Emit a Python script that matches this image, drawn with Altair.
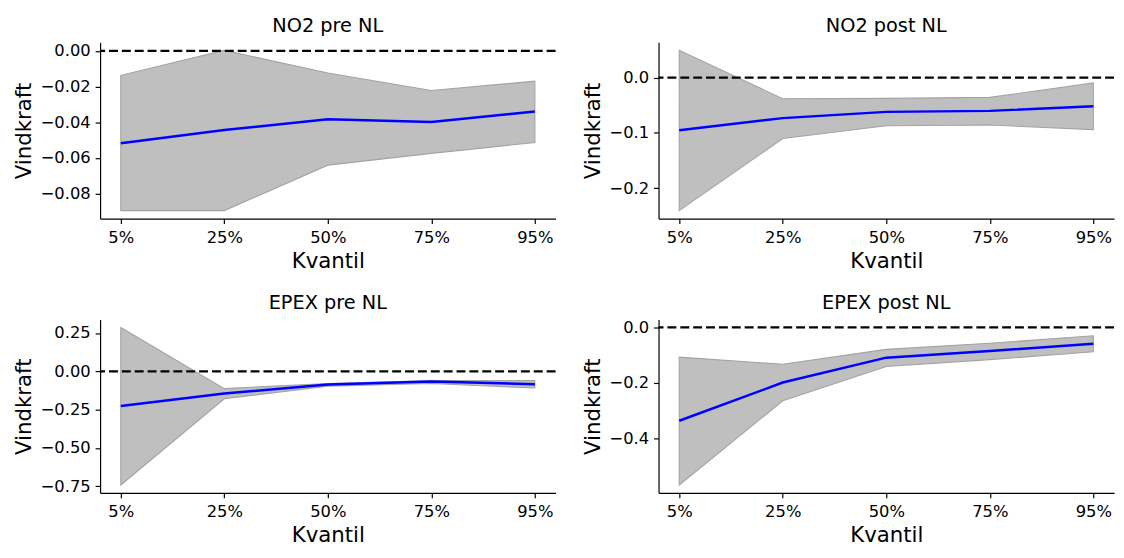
import altair as alt
import pandas as pd

quantiles = ["5%", "25%", "50%", "75%", "95%"]

no2_pre_mean = [-0.0518, -0.0444, -0.0384, -0.0399, -0.0340]
no2_pre_lo = [-0.0896, -0.0896, -0.0641, -0.0575, -0.0514]
no2_pre_hi = [-0.0137, 0.0003, -0.0124, -0.0222, -0.0170]
no2_pre_ticks = [0.0, -0.02, -0.04, -0.06, -0.08]

no2_post_mean = [-0.0952, -0.0732, -0.0619, -0.0601, -0.0518]
no2_post_lo = [-0.2405, -0.1101, -0.0869, -0.0857, -0.0940]
no2_post_hi = [0.0494, -0.0381, -0.0375, -0.0357, -0.0095]
no2_post_ticks = [0.0, -0.1, -0.2]

epex_pre_mean = [-0.227, -0.145, -0.086, -0.067, -0.084]
epex_pre_lo = [-0.742, -0.179, -0.097, -0.080, -0.109]
epex_pre_hi = [0.286, -0.113, -0.080, -0.061, -0.061]
epex_pre_ticks = [0.25, 0.0, -0.25, -0.5, -0.75]

epex_post_mean = [-0.337, -0.199, -0.109, -0.085, -0.059]
epex_post_lo = [-0.569, -0.265, -0.141, -0.116, -0.088]
epex_post_hi = [-0.107, -0.133, -0.079, -0.057, -0.030]
epex_post_ticks = [0.0, -0.2, -0.4]

titles = ["NO2 pre NL", "NO2 post NL", "EPEX pre NL", "EPEX post NL"]
zero_line = [0.0]


def panel(title, mean, lo, hi, ticks, fmt, h):
    df = pd.DataFrame({"q": quantiles, "mean": mean, "lo": lo, "hi": hi})
    dmin = min(min(lo), 0.0)
    dmax = max(max(hi), 0.0)
    m = 0.05 * (dmax - dmin)
    yscale = alt.Scale(domain=[dmin - m, dmax + m], nice=False, zero=False)
    yaxis = alt.Axis(
        title="Vindkraft",
        values=ticks,
        labelExpr="replace(format(datum.value, '" + fmt + "'), '-', '\u2212')",
        grid=False,
        labelFlush=False,
        titlePadding=5,
    )
    x = alt.X(
        "q:N",
        sort=quantiles,
        scale=alt.Scale(type="point", padding=0.2),
        axis=alt.Axis(
            title="Kvantil", labelAngle=0, grid=False, labelPadding=6, titlePadding=5
        ),
    )
    base = alt.Chart(df)
    band = base.mark_area(
        fill="#bfbfbf", stroke="#a3a3a3", strokeWidth=1.1, opacity=1
    ).encode(
        x=x,
        y=alt.Y("lo:Q", scale=yscale, axis=yaxis),
        y2="hi:Q",
    )
    rule = (
        alt.Chart(pd.DataFrame({"z": zero_line}))
        .mark_rule(color="black", strokeDash=[9, 4], strokeWidth=2.3)
        .encode(y=alt.Y("z:Q", scale=yscale, axis=yaxis))
    )
    line = base.mark_line(color="#0000ff", strokeWidth=2.5).encode(
        x=x, y=alt.Y("mean:Q", scale=yscale, axis=yaxis)
    )
    return alt.layer(band, rule, line).properties(
        width=460, height=h, title=alt.TitleParams(title, offset=6)
    )


p1 = panel(titles[0], no2_pre_mean, no2_pre_lo, no2_pre_hi, no2_pre_ticks, ".2f", 178)
p2 = panel(titles[1], no2_post_mean, no2_post_lo, no2_post_hi, no2_post_ticks, ".1f", 178)
p3 = panel(titles[2], epex_pre_mean, epex_pre_lo, epex_pre_hi, epex_pre_ticks, ".2f", 175)
p4 = panel(titles[3], epex_post_mean, epex_post_lo, epex_post_hi, epex_post_ticks, ".1f", 175)

row1 = alt.hconcat(p1, p2, spacing=24)
row2 = alt.hconcat(p3, p4, spacing=24)

chart = (
    alt.vconcat(row1, row2, spacing=21)
    .properties(padding={"left": 5, "top": 5, "right": 0, "bottom": 0})
    .configure(font="DejaVu Sans")
    .configure_view(stroke=None)
    .configure_axis(
        domainColor="black",
        domainWidth=1.2,
        tickColor="black",
        tickWidth=1.2,
        tickSize=5,
        labelFontSize=16.5,
        labelColor="black",
        labelPadding=5,
        titleFontSize=21.5,
        titleFontWeight="normal",
        titleColor="black",
        labelFont="DejaVu Sans",
        titleFont="DejaVu Sans",
    )
    .configure_title(fontSize=19.5, fontWeight="normal", color="black", font="DejaVu Sans")
)

chart.save("out.html", embed_options={"renderer": "svg", "actions": False})
